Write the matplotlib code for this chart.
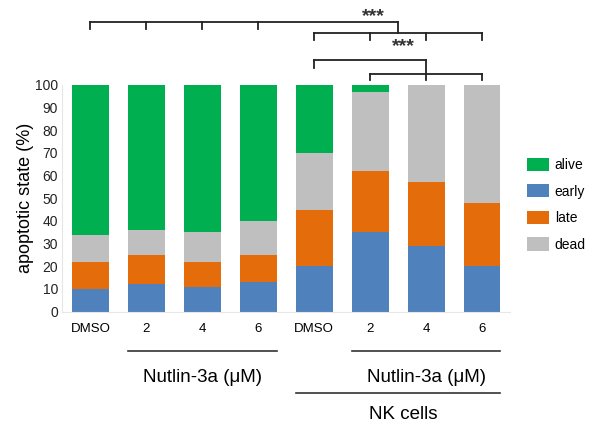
import numpy as np
import matplotlib.pyplot as plt

plt.rcParams['font.family'] = ['Liberation Sans', 'DejaVu Sans']

# apoptotic state per condition (%), stacked bottom -> top
conditions = ['DMSO', '2', '4', '6', 'DMSO', '2', '4', '6']
early = [10, 12, 11, 13, 20, 35, 29, 20]
late = [12, 13, 11, 12, 25, 27, 28, 28]
dead = [12, 11, 13, 15, 25, 35, 43, 52]
alive = [66, 64, 65, 60, 30, 3, 0, 0]

series = [('early', early, '#4F81BD'),
          ('late', late, '#E46C0A'),
          ('dead', dead, '#BFBFBF'),
          ('alive', alive, '#00B050')]

fig = plt.figure(figsize=(6, 4.25), dpi=100)
ax = fig.add_axes([0.104, 0.267, 0.746, 0.533])

x = np.arange(len(conditions))
bottom = np.zeros(len(conditions))
handles = {}
for name, vals, clr in series:
    b = ax.bar(x, vals, width=0.66, bottom=bottom, color=clr, linewidth=0)
    handles[name] = b
    bottom += np.array(vals)

ax.set_xlim(-0.5, 7.5)
ax.set_ylim(0, 100)
ax.set_yticks(range(0, 101, 10))
ax.tick_params(axis='y', length=0, labelsize=10, pad=3, colors='#222222')
ax.set_xticks(x)
ax.set_xticklabels(conditions, fontsize=9.5)
ax.tick_params(axis='x', length=0, pad=8)
ax.set_ylabel('apoptotic state (%)', fontsize=13, labelpad=1)
for s in ['top', 'right']:
    ax.spines[s].set_visible(False)
for s in ['left', 'bottom']:
    ax.spines[s].set_color('#E6E6E6')
    ax.spines[s].set_linewidth(0.8)

order = ['alive', 'early', 'late', 'dead']
leg = ax.legend([handles[k] for k in order], order, loc='upper left',
                bbox_to_anchor=(1.01, 0.735), frameon=False, fontsize=10,
                handlelength=1.6, handleheight=1.1, labelspacing=0.88,
                handletextpad=0.4)

# group labels under the x axis
def group_line(x0, x1, y):
    ax.plot([x0, x1], [y, y], color='#333333', lw=1.2, clip_on=False,
            transform=ax.get_xaxis_transform())

group_line(1 - 0.33, 3 + 0.33, -0.175)
ax.text(2, -0.29, 'Nutlin-3a (\u03bcM)', ha='center', va='center', fontsize=13.5,
        transform=ax.get_xaxis_transform())
group_line(5 - 0.33, 7 + 0.33, -0.175)
ax.text(6, -0.29, 'Nutlin-3a (\u03bcM)', ha='center', va='center', fontsize=13.5,
        transform=ax.get_xaxis_transform())
group_line(4 - 0.33, 7 + 0.33, -0.36)
ax.text(5.6, -0.455, 'NK cells', ha='center', va='center', fontsize=13.5,
        transform=ax.get_xaxis_transform())

# significance brackets above the bars
kw = dict(color='#222222', lw=1.3, clip_on=False)
def bracket(xs, y, drop):
    ax.plot([min(xs), max(xs)], [y, y], **kw)
    for xi in xs:
        ax.plot([xi, xi], [y, y - drop], **kw)

bracket([0, 1, 2, 3], 127.9, 3.2)
ax.plot([5.5, 5.5], [127.9, 123.1], **kw)
ax.plot([3, 5.5], [127.9, 127.9], **kw)
bracket([4, 5, 6, 7], 123.1, 3.2)
ax.text(5.05, 130.0, '***', ha='center', va='center', fontsize=14,
        fontweight='bold', color='#333333')

bracket([4], 111.0, 3.5)
ax.plot([4, 6], [111.0, 111.0], **kw)
ax.plot([6, 6], [111.0, 102.2], **kw)
bracket([5, 7], 104.9, 2.7)
ax.text(5.6, 116.8, '***', ha='center', va='center', fontsize=14,
        fontweight='bold', color='#333333')

fig.savefig('out.png', dpi=100)
